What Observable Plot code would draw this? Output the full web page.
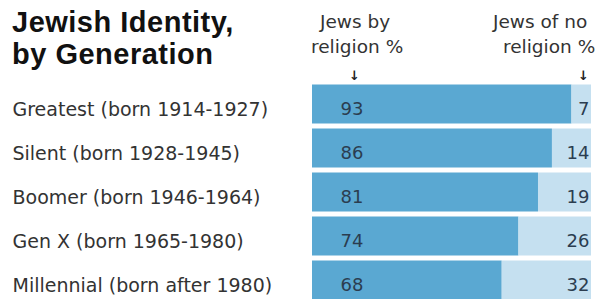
<!DOCTYPE html>
<html><head><meta charset="utf-8">
<script src="https://cdn.jsdelivr.net/npm/d3@7"></script>
<script src="https://cdn.jsdelivr.net/npm/@observablehq/plot@0.6"></script>
<style>
body{margin:0;background:#fff;}
#wrap{position:relative;width:600px;height:299px;overflow:hidden;font-family:"DejaVu Sans",sans-serif;}
#title{position:absolute;left:12px;top:6px;font:bold 29px/32px "Liberation Sans",Arial,sans-serif;letter-spacing:0.5px;color:#111;}
.hdr{position:absolute;font-size:18.5px;line-height:22px;color:#333;white-space:nowrap;}
.arr{position:absolute;font-size:13px;line-height:13px;color:#222;font-weight:bold;}
#chart{position:absolute;left:0;top:0;}
</style></head><body>
<div id="wrap">
<div id="chart"></div>
<div id="title">Jewish Identity,<br>by Generation</div>
<div class="hdr" style="left:320px;top:11px">Jews by</div>
<div class="hdr" style="left:311px;top:36px">religion %</div>
<div class="hdr" style="left:493px;top:11px">Jews of no</div>
<div class="hdr" style="left:503px;top:36px">religion %</div>
<div class="arr" style="left:349px;top:69px">↓</div>
<div class="arr" style="left:578px;top:69px">↓</div>
</div>
<script>
const generations = [
  "Greatest (born 1914-1927)",
  "Silent (born 1928-1945)",
  "Boomer (born 1946-1964)",
  "Gen X (born 1965-1980)",
  "Millennial (born after 1980)"
];
const byReligion = [93, 86, 81, 74, 68];
const noReligion = [7, 14, 19, 26, 32];
const seriesNames = ["Jews by religion", "Jews of no religion"];
const seriesColors = ["#5aa8d2", "#c5e0f0"];

const rows = generations.flatMap((g, i) => [
  {g, s: seriesNames[0], v: byReligion[i]},
  {g, s: seriesNames[1], v: noReligion[i]}
]);
const left = generations.map((g, i) => ({g, v: byReligion[i]}));
const right = generations.map((g, i) => ({g, v: noReligion[i]}));

const chart = Plot.plot({
  width: 600,
  height: 302,
  marginLeft: 312,
  marginRight: 9,
  marginTop: 82,
  marginBottom: 0,
  style: {fontFamily: "'DejaVu Sans', sans-serif", background: "transparent"},
  x: {domain: [0, 100], axis: null},
  y: {domain: generations, padding: 0, axis: null},
  color: {domain: seriesNames, range: seriesColors},
  marks: [
    Plot.barX(rows, Plot.stackX({x: "v", y: "g", fill: "s", order: null, insetTop: 2.5, insetBottom: 2.5})),
    Plot.text(generations, {y: d => d, x: () => 0, dx: -300, dy: 5, textAnchor: "start", fontSize: 19, fill: "#333"}),
    Plot.text(left, {y: "g", x: () => 0, dx: 28, dy: 5, text: d => String(d.v), textAnchor: "start", fontSize: 18, fill: "#2b3d50"}),
    Plot.text(right, {y: "g", x: () => 100, dx: -2, dy: 5, text: d => String(d.v), textAnchor: "end", fontSize: 18, fill: "#2b3d50"})
  ]
});
document.getElementById("chart").appendChild(chart);
</script>
</body></html>
